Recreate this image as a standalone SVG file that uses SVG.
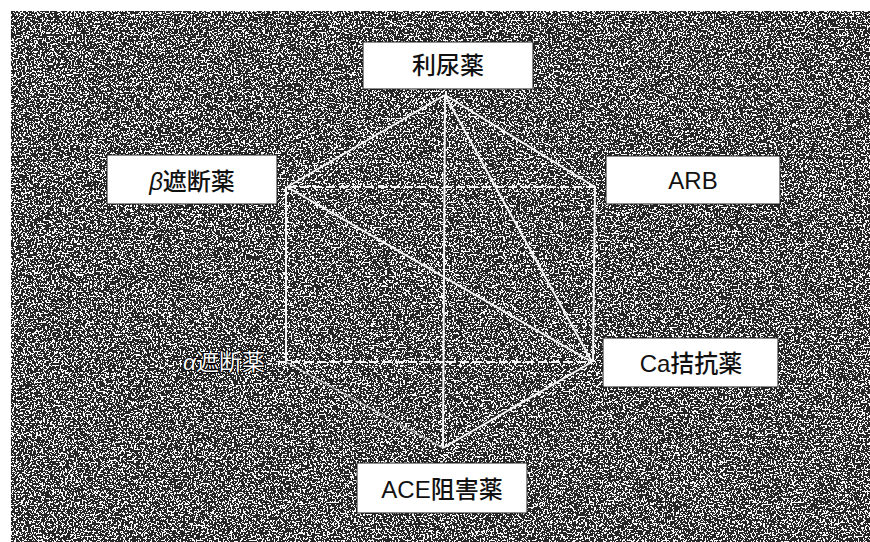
<svg xmlns="http://www.w3.org/2000/svg" width="870" height="542" viewBox="0 0 870 542">
<defs>
<style>
.box{fill:#fff;stroke:#1a1a1a;stroke-width:1}
.lbl{font-family:"Liberation Sans","Noto Sans CJK JP",sans-serif;font-size:24px;font-weight:500;fill:#111;text-anchor:middle}
.ln{stroke:#f4f4f4;stroke-width:2;fill:none}
.dash{stroke:#f4f4f4;stroke-width:2;fill:none;stroke-dasharray:9 4}
.faint{stroke:#d8d8d8;stroke-width:1.5;fill:none;opacity:0.7}
.alpha{font-family:"Liberation Sans","Noto Sans CJK JP",sans-serif;font-size:23px;fill:#fff;stroke:#000;stroke-width:2;paint-order:stroke;text-anchor:middle}
</style>
<filter id="noise" x="0" y="0" width="100%" height="100%" filterUnits="objectBoundingBox">
<feTurbulence type="fractalNoise" baseFrequency="0.55" numOctaves="2" seed="7" result="t"/>
<feColorMatrix in="t" type="matrix" values="1 0 0 0 0 1 0 0 0 0 1 0 0 0 0 0 0 0 0 1" result="g"/>
<feComponentTransfer in="g">
<feFuncR type="discrete" tableValues="0.02 0.02 0.02 0.02 0.02 0.95 0.95 0.95 0.95"/>
<feFuncG type="discrete" tableValues="0.02 0.02 0.02 0.02 0.02 0.95 0.95 0.95 0.95"/>
<feFuncB type="discrete" tableValues="0.02 0.02 0.02 0.02 0.02 0.95 0.95 0.95 0.95"/>
</feComponentTransfer>
</filter>
</defs>
<rect x="0" y="0" width="870" height="542" fill="#ffffff"/>
<rect id="background" x="11" y="11" width="859" height="531" fill="#555" filter="url(#noise)"/>

<g id="connectors">
<line class="ln" x1="445" y1="95" x2="287" y2="187"/>
<line class="ln" x1="445" y1="95" x2="595" y2="187"/>
<line class="ln" x1="445" y1="95" x2="443" y2="448"/>
<line class="ln" x1="445" y1="95" x2="592" y2="362"/>
<line class="ln" x1="287" y1="187" x2="592" y2="362"/>
<line class="dash" x1="287" y1="187" x2="595" y2="187"/>
<line class="ln" x1="286" y1="187" x2="286" y2="362"/>
<line class="ln" x1="595" y1="187" x2="593" y2="362"/>
<line class="dash" x1="278" y1="362" x2="592" y2="362"/>
<line class="ln" x1="592" y1="362" x2="443" y2="448"/>
<line class="faint" x1="286" y1="362" x2="443" y2="448"/>
</g>

<g id="node-riniyaku">
<rect class="box" x="363" y="42" width="170" height="47"/>
<text class="lbl" x="448" y="74">利尿薬</text>
</g>
<g id="node-beta">
<rect class="box" x="107" y="155" width="170" height="49"/>
<text class="lbl" x="192" y="190"><tspan font-style="italic">β</tspan>遮断薬</text>
</g>
<g id="node-arb">
<rect class="box" x="606" y="156" width="174" height="48"/>
<text class="lbl" x="693" y="189">ARB</text>
</g>
<g id="node-ca">
<rect class="box" x="603" y="338" width="175" height="49"/>
<text class="lbl" x="691" y="372" font-size="25">Ca拮抗薬</text>
</g>
<g id="node-ace">
<rect class="box" x="357" y="463" width="170" height="50"/>
<text class="lbl" x="442" y="498" font-size="25">ACE阻害薬</text>
</g>
<g id="node-alpha">
<text class="alpha" x="224" y="370"><tspan font-style="italic">α</tspan>遮断薬</text>
</g>
</svg>
